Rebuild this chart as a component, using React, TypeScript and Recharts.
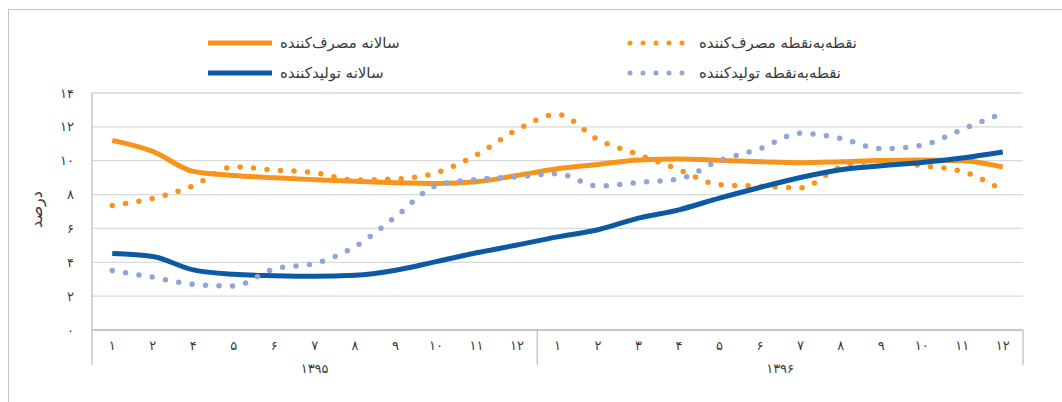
import React from 'react';
import { LineChart, Line, XAxis, YAxis, CartesianGrid, ReferenceLine } from 'recharts';

// ---- data ----
const months1395 = ['۱', '۲', '۴', '۵', '۶', '۷', '۸', '۹', '۱۰', '۱۱', '۱۲'];
const months1396 = ['۱', '۲', '۳', '۴', '۵', '۶', '۷', '۸', '۹', '۱۰', '۱۱', '۱۲'];
const years = ['۱۳۹۵', '۱۳۹۶'];
const monthLabels = [...months1395, ...months1396];

const annualConsumer = [11.2, 10.55, 9.37, 9.13, 8.99, 8.88, 8.78, 8.7, 8.66, 8.76, 9.13, 9.52, 9.78, 10.04, 10.1, 10.02, 9.94, 9.88, 9.94, 10.02, 10.04, 10.0, 9.63];
const pointConsumer = [7.36, 7.77, 8.52, 9.63, 9.45, 9.29, 8.86, 8.92, 9.29, 10.34, 11.83, 12.74, 11.24, 10.36, 9.47, 8.58, 8.5, 8.4, 9.64, 10.0, 9.7, 9.37, 8.25];
const annualProducer = [4.52, 4.34, 3.55, 3.29, 3.21, 3.17, 3.23, 3.53, 4.04, 4.56, 5.02, 5.5, 5.92, 6.61, 7.1, 7.79, 8.42, 9.01, 9.47, 9.7, 9.9, 10.16, 10.51];
const pointProducer = [3.51, 3.12, 2.7, 2.6, 3.61, 3.93, 4.93, 6.69, 8.52, 8.9, 9.05, 9.23, 8.5, 8.72, 8.92, 10.0, 10.71, 11.62, 11.32, 10.71, 10.91, 11.85, 12.8];

const yTicks = [0, 2, 4, 6, 8, 10, 12, 14];

const seriesNames = {
  ac: 'سالانه مصرف\u200cکننده',
  pc: 'نقطه\u200cبه\u200cنقطه مصرف\u200cکننده',
  ap: 'سالانه تولیدکننده',
  pp: 'نقطه\u200cبه\u200cنقطه تولیدکننده',
};

// ---- derived ----
const data = monthLabels.map((m, i) => ({
  idx: i,
  m,
  ac: annualConsumer[i],
  pc: pointConsumer[i],
  ap: annualProducer[i],
  pp: pointProducer[i],
}));
const monthTicks = monthLabels.map((_, i) => i);
const groupEdges = [-0.5, months1395.length - 0.5, monthLabels.length - 0.5];
const yearCenters = [(months1395.length - 1) / 2, months1395.length + (months1396.length - 1) / 2];

const toFa = (n: number) => String(n).replace(/\d/g, (d) => '۰۱۲۳۴۵۶۷۸۹'[+d]);

const ORANGE = '#F7941D';
const BLUE = '#0B5AA2';
const LIGHTBLUE = '#8FA6D6';
const FONT = '"DejaVu Sans", "Noto Sans", sans-serif';
const TXT = '#3a3a3a';

function Swatch({ color, dotted }: { color: string; dotted: boolean }) {
  return (
    <svg width={66} height={10} style={{ display: 'block' }}>
      <line
        x1={dotted ? 3 : 0}
        y1={5}
        x2={dotted ? 66 : 64}
        y2={5}
        stroke={color}
        strokeWidth={5}
        strokeLinecap={dotted ? 'round' : 'butt'}
        strokeDasharray={dotted ? '0 13' : undefined}
      />
    </svg>
  );
}

function LegendItem({ left, top, color, dotted, label }: any) {
  return (
    <div style={{ position: 'absolute', left, top, display: 'flex', alignItems: 'center', gap: 6 }}>
      <Swatch color={color} dotted={dotted} />
      <span style={{ fontFamily: FONT, fontSize: 15, color: TXT, whiteSpace: 'nowrap', direction: 'rtl' }}>{label}</span>
    </div>
  );
}

export default function App() {
  return (
    <div style={{ position: 'relative', width: 1062, height: 402, background: '#fff', overflow: 'hidden' }}>
      <style>{'body{margin:0}'}</style>
      <div
        style={{
          position: 'absolute',
          left: 8,
          top: 9,
          width: 1060,
          height: 400,
          borderTop: '1.5px solid #c4c4c4',
          borderLeft: '1.5px solid #c4c4c4',
        }}
      />
      <LegendItem left={208} top={34} color={ORANGE} dotted={false} label={seriesNames.ac} />
      <LegendItem left={627} top={34} color={ORANGE} dotted={true} label={seriesNames.pc} />
      <LegendItem left={208} top={64} color={BLUE} dotted={false} label={seriesNames.ap} />
      <LegendItem left={627} top={64} color={LIGHTBLUE} dotted={true} label={seriesNames.pp} />
      <div style={{ position: 'absolute', left: 0, top: 0 }}>
        <LineChart width={1062} height={402} data={data} margin={{ top: 93, right: 39, left: 0, bottom: 0 }}>
          <CartesianGrid vertical={false} stroke="#d9d9d9" strokeWidth={1.3} />
          <XAxis
            dataKey="idx"
            type="number"
            domain={[-0.5, monthLabels.length - 0.5]}
            ticks={monthTicks}
            interval={0}
            tickFormatter={(v: number) => monthLabels[v]}
            height={30}
            tickLine={false}
            tickMargin={5}
            axisLine={{ stroke: '#bfbfbf', strokeWidth: 1.3 }}
            tick={{ fill: TXT, fontSize: 13, fontFamily: FONT }}
          />
          <XAxis
            xAxisId="year"
            dataKey="idx"
            type="number"
            domain={[-0.5, monthLabels.length - 0.5]}
            ticks={yearCenters}
            interval={0}
            tickFormatter={(v: number) => years[yearCenters.indexOf(v)]}
            height={42}
            tickLine={false}
            tickMargin={-2}
            axisLine={false}
            tick={{ fill: TXT, fontSize: 13, fontFamily: FONT }}
          />
          <YAxis
            width={92}
            domain={[0, 14]}
            ticks={yTicks}
            interval={0}
            tickFormatter={(v: number) => toFa(v)}
            tickLine={false}
            tickMargin={12}
            axisLine={{ stroke: '#bfbfbf', strokeWidth: 1.3 }}
            tick={{ fill: TXT, fontSize: 13, fontFamily: FONT }}
            label={{
              content: ({ viewBox }: any) => {
                const cx = viewBox.x + 36;
                const cy = viewBox.y + viewBox.height / 2 - 2;
                return (
                  <text
                    x={cx}
                    y={cy}
                    transform={`rotate(-90 ${cx} ${cy})`}
                    textAnchor="middle"
                    dominantBaseline="central"
                    fill={TXT}
                    fontSize={16}
                    fontFamily={FONT}
                  >
                    درصد
                  </text>
                );
              },
            }}
          />
          {groupEdges.map((e) => (
            <ReferenceLine
              key={e}
              segment={[
                { x: e, y: 0 },
                { x: e, y: -2.05 },
              ]}
              stroke="#bfbfbf"
              strokeWidth={1.3}
              ifOverflow="visible"
            />
          ))}
          <Line dataKey="ac" name={seriesNames.ac} type="monotone" stroke={ORANGE} strokeWidth={5} dot={false} activeDot={false} isAnimationActive={false} />
          <Line
            dataKey="pc"
            name={seriesNames.pc}
            type="monotone"
            stroke={ORANGE}
            strokeWidth={5.5}
            strokeLinecap="round"
            strokeDasharray="0 13.5"
            dot={false}
            activeDot={false}
            isAnimationActive={false}
          />
          <Line dataKey="ap" name={seriesNames.ap} type="monotone" stroke={BLUE} strokeWidth={5} dot={false} activeDot={false} isAnimationActive={false} />
          <Line
            dataKey="pp"
            name={seriesNames.pp}
            type="monotone"
            stroke={LIGHTBLUE}
            strokeWidth={5.5}
            strokeLinecap="round"
            strokeDasharray="0 13.5"
            dot={false}
            activeDot={false}
            isAnimationActive={false}
          />
        </LineChart>
      </div>
    </div>
  );
}
